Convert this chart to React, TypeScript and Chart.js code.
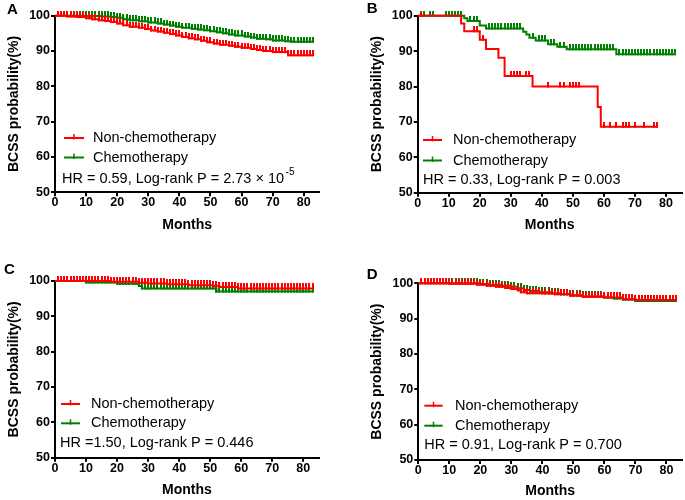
import React, { useEffect, useRef } from "react";
import { Chart, registerables } from "chart.js";

Chart.register(...registerables);

const FONT = "'Liberation Sans', Arial, Helvetica, sans-serif";
const RED = "#ff0000";
const GREEN = "#008000";

// ---------- shared axis ticks / labels ----------
const xTicks = [0, 10, 20, 30, 40, 50, 60, 70, 80];
const yTicks = [50, 60, 70, 80, 90, 100];
const seriesLabels = ["Non-chemotherapy", "Chemotherapy"];
const xTitle = "Months";
const yTitle = "BCSS probability(%)";

// censoring every month in the large cohorts (SEER months are integers)
const monthlyCensor = [
  1, 2, 3, 4, 5, 6, 7, 8, 9, 10, 11, 12, 13, 14, 15, 16, 17, 18, 19, 20, 21, 22, 23, 24, 25, 26, 27, 28,
  29, 30, 31, 32, 33, 34, 35, 36, 37, 38, 39, 40, 41, 42, 43, 44, 45, 46, 47, 48, 49, 50, 51, 52, 53, 54,
  55, 56, 57, 58, 59, 60, 61, 62, 63, 64, 65, 66, 67, 68, 69, 70, 71, 72, 73, 74, 75, 76, 77, 78, 79, 80,
  81, 82, 83,
];

// ---------- Panel A ----------
const aNonMonths = [0, 4, 7, 10, 12, 14, 16, 18, 20, 22, 24, 27, 29, 31, 33, 35, 37, 39, 41, 43, 45, 47, 49, 51, 53, 56, 58, 60, 63, 65, 67, 70, 75];
const aNonValues = [100, 99.8, 99.6, 99.3, 99.0, 98.7, 98.5, 98.2, 97.8, 97.3, 96.9, 96.6, 96.2, 95.8, 95.5, 95.2, 94.8, 94.4, 94.0, 93.6, 93.3, 92.9, 92.5, 92.1, 91.8, 91.5, 91.2, 90.9, 90.6, 90.3, 90.0, 89.7, 88.8];
const aChemoMonths = [0, 10, 15, 18, 20, 22, 24, 27, 30, 33, 35, 37, 39, 41, 44, 46, 48, 50, 52, 54, 56, 58, 61, 63, 65, 68, 70, 74, 76];
const aChemoValues = [100, 99.9, 99.8, 99.6, 99.4, 99.0, 98.7, 98.4, 98.1, 97.8, 97.5, 97.2, 96.9, 96.6, 96.3, 96.1, 95.9, 95.6, 95.3, 95.0, 94.7, 94.4, 94.1, 93.8, 93.5, 93.3, 93.0, 92.8, 92.6];

// ---------- Panel B ----------
const bNonMonths = [0, 14, 15, 20, 22, 26, 28, 37, 58, 59];
const bNonValues = [100, 97.8, 95.6, 93.2, 90.6, 88.1, 83.0, 80.0, 74.2, 68.6];
const bNonCensor = [1, 18, 19, 21, 30, 31, 32, 33, 35, 36, 42, 46, 47, 49, 50, 51, 52, 60, 62, 64, 66, 67, 68, 70, 73, 76, 77];
const bChemoMonths = [0, 15, 16, 20, 22, 34, 35, 36, 38, 42, 45, 48, 64];
const bChemoValues = [100, 99.3, 98.5, 97.2, 96.4, 95.5, 94.7, 93.8, 93.0, 91.9, 91.2, 90.5, 89.1];
const bChemoCensor = [
  2, 4, 5, 9, 10, 11, 12, 13, 14, 17, 18, 19, 23, 24, 25, 26, 27, 28, 29, 30, 31, 32, 33, 37, 39, 40, 41, 43,
  44, 46, 47, 49, 50, 51, 52, 53, 54, 55, 56, 57, 58, 59, 60, 61, 62, 63, 65, 66, 67, 68, 69, 70, 71, 72, 73,
  74, 75, 76, 77, 78, 79, 80, 81, 82, 83,
];

// ---------- Panel C ----------
const cNonMonths = [0, 18, 27, 30, 36, 43, 51, 53, 59];
const cNonValues = [100, 99.8, 99.5, 99.3, 99.1, 98.8, 98.6, 98.3, 97.9];
const cChemoMonths = [0, 10, 20, 27, 28, 52];
const cChemoValues = [100, 99.6, 99.2, 98.6, 97.9, 97.0];

// ---------- Panel D ----------
const dNonMonths = [0, 10, 19, 22, 25, 28, 30, 32, 33, 35, 40, 44, 49, 53, 60, 66, 70];
const dNonValues = [100, 99.9, 99.6, 99.3, 99.0, 98.7, 98.4, 98.0, 97.5, 97.2, 97.1, 96.9, 96.5, 96.2, 96.0, 95.5, 95.3];
const dChemoMonths = [0, 20, 23, 27, 30, 32, 34, 36, 39, 43, 46, 49, 53, 60, 63, 66, 70];
const dChemoValues = [100, 99.8, 99.5, 99.3, 99.0, 98.6, 98.1, 97.8, 97.5, 97.2, 96.9, 96.6, 96.3, 96.0, 95.7, 95.4, 95.0];

// ---------- annotation texts ----------
const hrTexts = [
  { main: "HR = 0.59, Log-rank P = 2.73 \u00d7 10", sup: "-5" },
  { main: "HR = 0.33, Log-rank P = 0.003", sup: "" },
  { main: "HR =1.50, Log-rank P = 0.446", sup: "" },
  { main: "HR = 0.91, Log-rank P = 0.700", sup: "" },
];
const panelLetters = ["A", "B", "C", "D"];

type Pt = { x: number; y: number; c: boolean };

function buildCurve(stepMonths: number[], stepValues: number[], censor: number[]): Pt[] {
  const pts: Pt[] = [];
  stepMonths.forEach((m, i) => pts.push({ x: m, y: stepValues[i], c: false }));
  censor.forEach((m) => {
    let v = stepValues[0];
    for (let i = 0; i < stepMonths.length; i++) if (stepMonths[i] <= m) v = stepValues[i];
    pts.push({ x: m, y: v, c: true });
  });
  pts.sort((a, b) => a.x - b.x || (a.c ? 1 : 0) - (b.c ? 1 : 0));
  return pts;
}

function tickImage(color: string): HTMLCanvasElement {
  const c = document.createElement("canvas");
  c.width = 2;
  c.height = 10;
  const g = c.getContext("2d")!;
  g.fillStyle = color;
  g.fillRect(0, 0, 2, 6);
  return c;
}

type PanelCfg = {
  left: number; top: number; w: number; h: number;
  area: { l: number; t: number; r: number; b: number };
  padL: number; xTitleCenter: number;
  letterX: number; letterY: number;
  legX1: number; legX2: number; legTextX: number; legY: number[];
  hrX: number; hrY: number;
  curves: Pt[][];
  idx: number;
};

const panels: PanelCfg[] = [
  {
    left: 0, top: 0, w: 343, h: 250, area: { l: 55, t: 15.7, r: 319.3, b: 192.3 }, padL: 0, xTitleCenter: 225,
    letterX: 7, letterY: 9.5, legX1: 64, legX2: 84, legTextX: 93, legY: [138, 157.5], hrX: 62, hrY: 178.5,
    curves: [buildCurve(aNonMonths, aNonValues, monthlyCensor), buildCurve(aChemoMonths, aChemoValues, monthlyCensor)], idx: 0,
  },
  {
    left: 343, top: 0, w: 342, h: 250, area: { l: 74.7, t: 15.7, r: 338.5, b: 192.7 }, padL: 20, xTitleCenter: 225,
    letterX: 23.7, letterY: 8.5, legX1: 80, legX2: 99, legTextX: 110, legY: [140, 160.5], hrX: 80, hrY: 180,
    curves: [buildCurve(bNonMonths, bNonValues, bNonCensor), buildCurve(bChemoMonths, bChemoValues, bChemoCensor)], idx: 1,
  },
  {
    left: 0, top: 250, w: 343, h: 250, area: { l: 55, t: 31, r: 318.8, b: 207.7 }, padL: 0, xTitleCenter: 240,
    letterX: 4, letterY: 19.5, legX1: 61, legX2: 80, legTextX: 91, legY: [154, 173.3], hrX: 60, hrY: 193.3,
    curves: [buildCurve(cNonMonths, cNonValues, monthlyCensor), buildCurve(cChemoMonths, cChemoValues, monthlyCensor)], idx: 2,
  },
  {
    left: 343, top: 250, w: 342, h: 250, area: { l: 75.3, t: 33.3, r: 339.2, b: 210 }, padL: 20, xTitleCenter: 241.3,
    letterX: 23.7, letterY: 25, legX1: 81.3, legX2: 99.7, legTextX: 112, legY: [155.7, 175.7], hrX: 81.3, hrY: 195,
    curves: [buildCurve(dNonMonths, dNonValues, monthlyCensor), buildCurve(dChemoMonths, dChemoValues, monthlyCensor)], idx: 3,
  },
];

function Panel({ cfg }: { cfg: PanelCfg }) {
  const ref = useRef<HTMLCanvasElement | null>(null);
  useEffect(() => {
    if (!ref.current) return;
    const colors = [RED, GREEN];
    const images = colors.map(tickImage);
    const yW = cfg.area.l - cfg.padL;
    const titleHalf = 14 * 1.2 / 2;
    const scaleBottom = cfg.xTitleCenter + titleHalf;
    const xH = scaleBottom - cfg.area.b;
    const padB = Math.max(0, cfg.h - scaleBottom);
    const hr = hrTexts[cfg.idx];

    const annot = {
      id: "kmAnnot" + cfg.idx,
      afterDraw(chart: any) {
        const ctx: CanvasRenderingContext2D = chart.ctx;
        ctx.save();
        ctx.fillStyle = "#000";
        ctx.textAlign = "left";
        ctx.textBaseline = "middle";
        ctx.font = `bold 15px ${FONT}`;
        ctx.fillText(panelLetters[cfg.idx], cfg.letterX, cfg.letterY);
        // legend
        chart.data.datasets.forEach((ds: any, i: number) => {
          const y = cfg.legY[i];
          ctx.strokeStyle = ds.borderColor;
          ctx.lineWidth = 2;
          ctx.beginPath();
          ctx.moveTo(cfg.legX1, y);
          ctx.lineTo(cfg.legX2, y);
          ctx.stroke();
          const mx = (cfg.legX1 + cfg.legX2) / 2;
          ctx.lineWidth = 1.5;
          ctx.beginPath();
          ctx.moveTo(mx, y - 4);
          ctx.lineTo(mx, y + 1.5);
          ctx.stroke();
          ctx.fillStyle = "#000";
          ctx.font = `14.5px ${FONT}`;
          ctx.fillText(ds.label, cfg.legTextX, y);
        });
        // HR text
        ctx.font = `14.5px ${FONT}`;
        ctx.fillText(hr.main, cfg.hrX, cfg.hrY);
        if (hr.sup) {
          const w = ctx.measureText(hr.main).width;
          ctx.font = `10px ${FONT}`;
          ctx.fillText(hr.sup, cfg.hrX + w + 1.5, cfg.hrY - 6.5);
        }
        ctx.restore();
      },
    };

    const axisCommon = {
      type: "linear" as const,
      grid: { display: true, drawOnChartArea: false, drawTicks: true, tickLength: 4, color: "#000", lineWidth: 2 },
      border: { display: true, color: "#000", width: 2 },
    };

    const chart = new Chart(ref.current, {
      type: "line",
      data: {
        datasets: cfg.curves.map((pts, i) => ({
          label: seriesLabels[i],
          data: pts,
          borderColor: colors[i],
          backgroundColor: colors[i],
          borderWidth: 2,
          stepped: "before" as const,
          fill: false,
          tension: 0,
          clip: false as any,
          pointStyle: images[i] as any,
          pointRadius: (c: any) => (c.raw && c.raw.c ? 3 : 0),
          pointHoverRadius: 0,
          pointBorderWidth: 0,
          order: i,
        })),
      },
      options: {
        animation: false,
        responsive: false,
        events: [],
        parsing: { xAxisKey: "x", yAxisKey: "y" },
        layout: {
          padding: { left: cfg.padL, top: cfg.area.t, right: cfg.w - cfg.area.r, bottom: padB },
        },
        plugins: { legend: { display: false }, title: { display: false }, tooltip: { enabled: false } },
        scales: {
          x: {
            ...axisCommon,
            min: 0,
            max: 85,
            afterFit: (s: any) => { s.height = xH; },
            afterBuildTicks: (s: any) => { s.ticks = xTicks.map((value) => ({ value })); },
            ticks: { color: "#000", padding: -1, maxRotation: 0, autoSkip: false, font: { family: FONT, size: 12.5, weight: "bold" } },
            title: { display: true, text: xTitle, color: "#000", padding: { top: 0, bottom: 0 }, font: { family: FONT, size: 14, weight: "bold" } },
          },
          y: {
            ...axisCommon,
            min: 50,
            max: 100,
            afterFit: (s: any) => { s.width = yW; },
            afterBuildTicks: (s: any) => { s.ticks = yTicks.map((value) => ({ value })); },
            ticks: { color: "#000", padding: 1, font: { family: FONT, size: 12.5, weight: "bold" } },
            title: { display: true, text: yTitle, color: "#000", padding: { top: 6, bottom: 0 }, font: { family: FONT, size: 14, weight: "bold" } },
          },
        },
      } as any,
      plugins: [annot],
    });
    return () => chart.destroy();
  }, [cfg]);
  return (
    <canvas
      ref={ref}
      width={cfg.w}
      height={cfg.h}
      style={{ position: "absolute", left: cfg.left, top: cfg.top, width: cfg.w, height: cfg.h }}
    />
  );
}

export default function App() {
  return (
    <div style={{ position: "absolute", left: 0, top: 0, width: 685, height: 500, background: "#fff" }}>
      {panels.map((p) => (
        <Panel key={p.idx} cfg={p} />
      ))}
    </div>
  );
}
